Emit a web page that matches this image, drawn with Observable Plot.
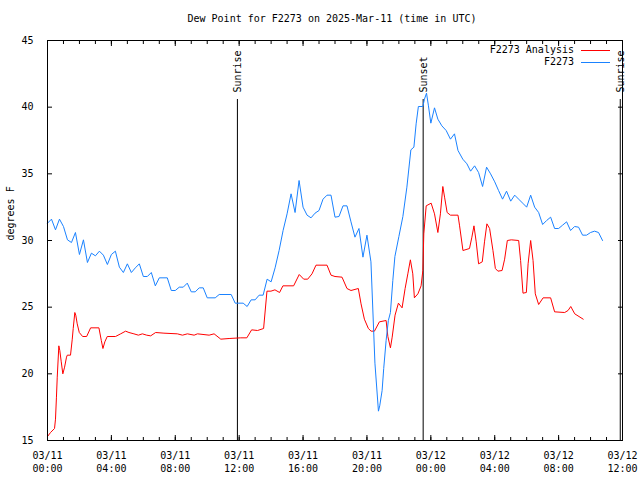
<!DOCTYPE html>
<html><head><meta charset="utf-8">
<script src="https://cdn.jsdelivr.net/npm/d3@7"></script>
<script src="https://cdn.jsdelivr.net/npm/@observablehq/plot@0.6"></script>
<style>
body{margin:0;background:#fff;}
#wrap{position:relative;width:640px;height:480px;font-family:"DejaVu Sans Mono",monospace;font-size:10px;color:#000;}
#title{position:absolute;top:13px;left:0;width:664px;text-align:center;white-space:pre;}
#legend{position:absolute;right:30px;top:44px;text-align:right;}
#legend .row{position:relative;height:12px;line-height:12px;padding-right:36px;}
.sw{position:absolute;right:0;top:6px;width:29px;height:1px;}
</style></head>
<body><div id="wrap"><div id="title"></div><div id="legend"></div></div>
<script>
const titleText = "Dew Point for F2273 on 2025-Mar-11 (time in UTC)";
const yLabel = "degrees F";
const seriesNames = ["F2273 Analysis", "F2273"];
const seriesColors = ["#ff0000", "#1a82ff"];
const yTicks = [15, 20, 25, 30, 35, 40, 45];
const markerHours = [11.89, 23.52, 35.86];
const markerLabels = ["Sunrise", "Sunset", "Sunrise"];

const analysisHours = [0,0.19,0.44,0.5,0.56,0.61,0.71,0.77,0.86,0.96,1.07,1.19,1.24,1.44,1.55,1.61,1.71,1.77,1.86,1.99,2.2,2.45,2.7,3.22,3.37,3.47,3.59,3.74,4.26,4.58,4.89,5.1,5.41,5.69,5.94,6.21,6.46,6.77,7.29,8.13,8.45,8.76,9.18,9.39,10.12,10.43,10.85,11.37,12.1,12.48,12.78,13.15,13.53,13.74,13.99,14.24,14.53,14.74,15.41,15.76,16.04,16.29,16.56,16.81,17.5,17.75,18.0,18.44,18.75,19.0,19.46,19.63,19.84,20.09,20.26,20.47,20.78,21.2,21.31,21.47,21.58,21.76,21.97,22.2,22.39,22.56,22.72,22.87,22.97,23.19,23.39,23.5,23.56,23.71,24.02,24.23,24.44,24.6,24.75,24.86,25.02,25.23,25.7,25.8,26.01,26.42,26.57,26.7,26.84,26.99,27.22,27.36,27.51,27.68,27.89,28.04,28.2,28.46,28.62,28.79,29.04,29.5,29.62,29.77,29.98,30.09,30.25,30.4,30.54,30.75,31.03,31.5,31.75,32.38,32.59,32.76,33.01,33.54];
const analysisValues = [15.3,15.6,15.9,16.6,18.25,19.75,22.1,21.75,20.9,20.0,20.5,21.25,21.4,21.4,22.6,23.4,24.6,24.4,23.75,23.1,22.8,22.8,23.45,23.45,22.5,21.9,22.4,22.8,22.8,23.0,23.2,23.1,23.0,22.9,23.0,22.9,22.85,23.1,23.05,23.0,22.9,23.0,22.9,23.0,22.9,23.0,22.6,22.65,22.7,22.7,23.3,23.25,23.4,26.2,26.2,26.3,26.1,26.6,26.6,27.45,27.1,27.1,27.5,28.15,28.15,27.4,27.3,27.25,26.4,26.25,26.4,25.25,24.1,23.4,23.2,23.2,23.9,24.0,22.8,21.95,22.75,24.4,25.3,24.95,26.4,27.5,28.55,27.5,25.7,26.0,26.6,27.75,30.5,32.6,32.8,32.0,30.6,32.0,34.05,33.25,32.1,31.9,31.9,31.1,29.25,29.4,30.25,31.1,29.9,28.25,28.4,29.9,31.25,30.9,29.25,27.9,27.7,27.75,28.6,30.0,30.05,30.0,28.5,26.05,26.1,28.25,30.0,28.5,26.0,25.2,25.7,25.7,24.65,24.6,24.75,25.05,24.5,24.1];

const observedHours = [0,0.25,0.5,0.75,1,1.25,1.5,1.75,2,2.25,2.5,2.75,3,3.25,3.5,3.75,4,4.25,4.5,4.75,5,5.25,5.5,5.75,6,6.25,6.5,6.75,7,7.5,7.75,8,8.25,8.5,8.75,9,9.25,9.5,9.75,10,10.5,10.75,11.5,11.75,12.25,12.5,12.75,13,13.25,13.5,13.75,14,14.25,14.5,14.75,15,15.25,15.5,15.75,16,16.25,16.5,16.75,17,17.25,17.5,17.75,18,18.25,18.5,18.75,19,19.25,19.5,19.75,20,20.25,20.5,20.72,20.8,20.95,21.05,21.2,21.34,21.47,21.62,21.75,22,22.25,22.5,22.75,22.94,23.08,23.22,23.5,23.6,23.73,23.85,24,24.23,24.44,24.69,24.96,25.23,25.48,25.7,26,26.26,26.49,26.74,26.99,27.24,27.49,27.74,28,28.24,28.49,28.74,29,29.25,29.5,29.75,30,30.25,30.5,30.75,31,31.25,31.5,31.75,32,32.25,32.5,32.75,33,33.25,33.5,33.75,34,34.25,34.5,34.75];
const observedValues = [31.3,31.6,30.8,31.6,31.05,30.05,29.85,30.6,28.95,30.05,28.35,29.05,28.85,29.2,28.9,28.2,28.95,29.2,28.0,27.6,28.25,27.6,27.95,28.25,27.3,27.3,27.6,26.6,27.2,27.2,26.25,26.25,26.5,26.5,26.8,26.15,26.15,26.45,26.45,25.7,25.7,25.95,25.95,25.3,25.3,25.05,25.55,25.55,25.9,25.9,27.1,26.9,27.95,29.25,30.75,32.0,33.5,32.1,34.5,32.5,31.9,31.7,32.05,32.25,33.1,33.4,33.4,31.75,31.8,32.6,32.6,31.4,30.25,30.9,28.75,30.4,28.4,20.8,17.2,17.6,18.75,20.4,22.5,24.0,24.6,27.0,28.8,30.3,31.8,34.0,36.8,37.0,38.75,40.05,40.05,40.6,41.05,40.1,38.8,39.95,39.1,38.6,38.25,37.6,38.0,36.75,36.1,35.75,35.2,35.6,35.1,34.05,35.5,35.0,34.4,33.75,33.1,33.7,32.95,33.4,33.1,32.8,32.5,33.4,32.5,32.1,31.2,31.5,31.75,30.9,30.9,31.15,31.4,30.75,31.05,31.0,30.4,30.4,30.6,30.7,30.6,30.0];

const t0 = Date.UTC(2025, 2, 11);
const toDate = h => new Date(t0 + h * 3600e3);
const analysis = analysisHours.map((h, i) => ({t: toDate(h), v: analysisValues[i]}));
const observed = observedHours.map((h, i) => ({t: toDate(h), v: observedValues[i]}));
const markers = markerHours.map((h, i) => ({t: toDate(h), label: markerLabels[i]}));
const hourTicks = d3.utcHours(toDate(0), toDate(36.5));
const majorTicks = d3.utcHour.every(4).range(toDate(0), toDate(36.5));

document.getElementById("title").textContent = titleText;
const legend = document.getElementById("legend");
seriesNames.forEach((n, i) => {
  const row = document.createElement("div");
  row.className = "row";
  row.appendChild(document.createTextNode(n));
  const sw = document.createElement("span");
  sw.className = "sw";
  sw.style.background = seriesColors[i];
  row.appendChild(sw);
  legend.appendChild(row);
});

const chart = Plot.plot({
  width: 640, height: 480,
  marginLeft: 47, marginRight: 18, marginTop: 40, marginBottom: 40,
  style: {fontFamily: "DejaVu Sans Mono, monospace", fontSize: "10px", background: "transparent", color: "black", overflow: "visible"},
  x: {type: "utc", domain: [toDate(0), toDate(36)]},
  y: {domain: [15, 45]},
  marks: [
    Plot.axisX({ticks: hourTicks, tickSize: -3, text: null, label: null}),
    Plot.axisX({anchor: "top", ticks: hourTicks, tickSize: -3, text: null, label: null}),
    Plot.axisX({ticks: majorTicks, tickSize: -5, text: null, label: null}),
    Plot.axisX({anchor: "top", ticks: majorTicks, tickSize: -5, text: null, label: null}),
    Plot.axisX({ticks: majorTicks, tickSize: 0, tickPadding: 10, tickFormat: d3.utcFormat("%m/%d\n%H:%M"), lineHeight: 1.25, label: null}),
    Plot.axisY({ticks: yTicks, tickSize: -5, text: null, label: null}),
    Plot.axisY({anchor: "right", ticks: yTicks, tickSize: -5, text: null, label: null}),
    Plot.axisY({ticks: yTicks, tickSize: 0, tickPadding: 14, label: null}),
    Plot.ruleX(markers, {x: "t", insetTop: 59, stroke: "black"}),
    Plot.text(markers, {x: "t", text: "label", frameAnchor: "top", dy: 52, dx: -3.5, rotate: -90, textAnchor: "start", fill: "black"}),
    Plot.lineY(analysis, {x: "t", y: "v", stroke: seriesColors[0], strokeWidth: 1}),
    Plot.lineY(observed, {x: "t", y: "v", stroke: seriesColors[1], strokeWidth: 1}),
    Plot.text([yLabel], {text: d => d, frameAnchor: "left", dx: -37, rotate: -90, fill: "black"}),
    Plot.frame({stroke: "black"})
  ]
});
chart.style.position = "absolute";
chart.style.left = "0";
chart.style.top = "0";
document.getElementById("wrap").prepend(chart);
</script>
</body></html>
